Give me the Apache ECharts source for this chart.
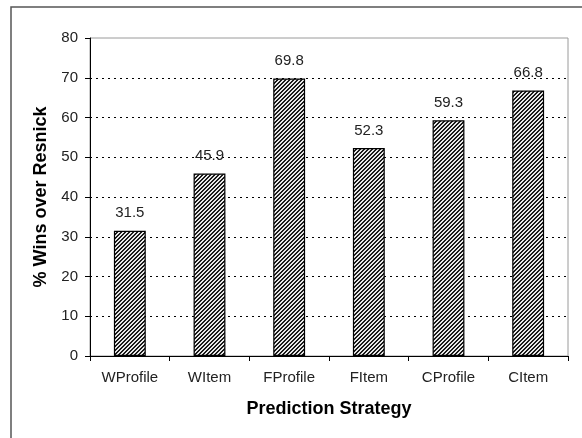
<!DOCTYPE html>
<html><head><meta charset="utf-8">
<script src="https://cdn.jsdelivr.net/npm/echarts@6/dist/echarts.min.js"></script>
<style>html,body{margin:0;padding:0;background:#fff}#c{width:582px;height:438px}</style>
</head><body><div id="c"></div>
<script>
const categories = ['WProfile', 'WItem', 'FProfile', 'FItem', 'CProfile', 'CItem'];
const winsOverResnick = [31.5, 45.9, 69.8, 52.3, 59.3, 66.8];
const yTicks = [0, 10, 20, 30, 40, 50, 60, 70, 80];

function hatch() {
  const c = document.createElement('canvas');
  c.width = 4; c.height = 4;
  const ctx = c.getContext('2d');
  ctx.fillStyle = '#e8e8e8';
  ctx.fillRect(0, 0, 4, 4);
  ctx.fillStyle = '#1a1a1a';
  for (let x = 0; x < 4; x++) for (let y = 0; y < 4; y++) {
    const m = (x + y) % 4;
    if (m === 0 || m === 1) ctx.fillRect(x, y, 1, 1);
  }
  return c;
}

const chart = echarts.init(document.getElementById('c'), null, {renderer: 'canvas'});
const font = 'Liberation Sans, Arial, sans-serif';
chart.setOption({
  animation: false,
  grid: {left: 90, right: 14, top: 38, bottom: 82, show: true, borderColor: '#9a9a9a', borderWidth: 1},
  graphic: [{type: 'rect', shape: {x: 11, y: 7, width: 640, height: 500}, style: {fill: 'none', stroke: '#555', lineWidth: 1.5}, silent: true}],
  xAxis: {
    type: 'category', data: categories,
    axisLine: {lineStyle: {color: '#000', width: 1}},
    axisTick: {show: true, interval: 0, length: 5, lineStyle: {color: '#000'}},
    axisLabel: {color: '#222', fontSize: 15, fontFamily: font, margin: 14, interval: 0},
    name: 'Prediction Strategy', nameLocation: 'middle', nameGap: 44,
    nameTextStyle: {fontSize: 18, fontWeight: 'bold', color: '#000', fontFamily: font}
  },
  yAxis: {
    type: 'value', min: yTicks[0], max: yTicks[yTicks.length - 1], interval: 10,
    axisLine: {show: true, lineStyle: {color: '#000', width: 1}},
    axisTick: {show: true, length: 5, lineStyle: {color: '#000'}},
    axisLabel: {color: '#222', fontSize: 15, fontFamily: font, margin: 12},
    splitLine: {show: true, showMinLine: false, showMaxLine: false, lineStyle: {color: '#000', type: [2, 4], width: 1}},
    name: '% Wins over Resnick', nameLocation: 'middle', nameGap: 38,
    nameTextStyle: {fontSize: 18, fontWeight: 'bold', color: '#000', fontFamily: font}
  },
  series: [{
    type: 'bar', data: winsOverResnick, barWidth: '40%',
    itemStyle: {color: {image: hatch(), repeat: 'repeat'}, borderColor: '#000', borderWidth: 1.2},
    label: {show: true, position: 'top', distance: 10, color: '#222', fontSize: 15, fontFamily: font}
  }]
});
</script></body></html>
